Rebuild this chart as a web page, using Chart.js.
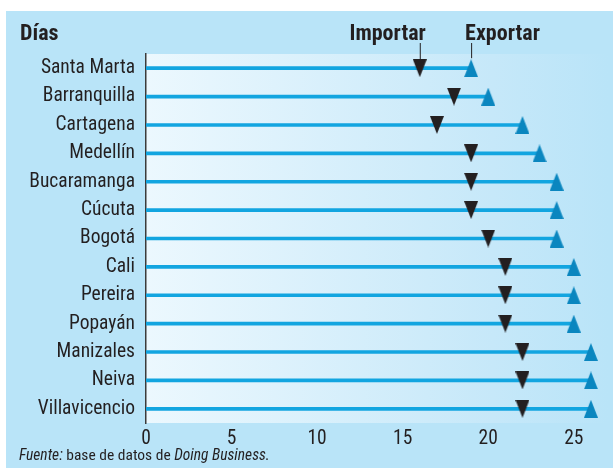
<!DOCTYPE html>
<html>
<head>
<meta charset="utf-8">
<script src="https://cdn.jsdelivr.net/npm/chart.js@4.4.0/dist/chart.umd.min.js"></script>
<style>
  html, body { margin: 0; padding: 0; background: #fff; }
  #wrap { width: 613px; height: 468px; }
</style>
</head>
<body>
<div id="wrap"><canvas id="myChart" width="613" height="468"></canvas></div>
<script>
// Días para importar / exportar por ciudad
var ciudades = ['Santa Marta', 'Barranquilla', 'Cartagena', 'Medellín', 'Bucaramanga', 'Cúcuta',
  'Bogotá', 'Cali', 'Pereira', 'Popayán', 'Manizales', 'Neiva', 'Villavicencio'];
var importar = [16, 18, 17, 19, 19, 19, 20, 21, 21, 21, 22, 22, 22];
var exportar = [19, 20, 22, 23, 24, 24, 24, 25, 25, 25, 26, 26, 26];
var xTicks = [0, 5, 10, 15, 20, 25];

var FONT = '"Liberation Sans Narrow", "Roboto Condensed", "DejaVu Sans Condensed", "Open Sans", sans-serif';
var INK = '#231f20';
var PANEL = '#b9e4f8';

function triangle(color, down) {
  var c = document.createElement('canvas');
  c.width = 14; c.height = 18;
  var g = c.getContext('2d');
  g.fillStyle = color;
  g.beginPath();
  if (down) { g.moveTo(0, 0); g.lineTo(14, 0); g.lineTo(7, 18); }
  else { g.moveTo(7, 0); g.lineTo(14, 18); g.lineTo(0, 18); }
  g.closePath();
  g.fill();
  return c;
}

var decor = {
  id: 'decor',
  beforeDraw: function (chart) {
    var c = chart.ctx, a = chart.chartArea;
    c.save();
    c.fillStyle = PANEL;
    c.fillRect(6, 11, chart.width - 6, chart.height - 11);
    var grad = c.createLinearGradient(a.left, 0, a.right, 0);
    grad.addColorStop(0, '#ecf8fe');
    grad.addColorStop(0.75, '#c6e8f9');
    grad.addColorStop(1, PANEL);
    c.fillStyle = grad;
    c.fillRect(a.left, a.top, a.right - a.left, a.bottom - a.top);
    c.restore();
  },
  afterDraw: function (chart) {
    var c = chart.ctx;
    var x = chart.scales.x, y = chart.scales.y;
    c.save();
    c.fillStyle = INK;
    c.font = 'bold 22px ' + FONT;
    c.textBaseline = 'alphabetic';
    c.textAlign = 'left';
    c.fillText('Días', 20, 40);

    var xi = x.getPixelForValue(importar[0]);
    var xe = x.getPixelForValue(exportar[0]);
    var y0 = y.getPixelForValue(0);
    c.textAlign = 'right';
    c.fillText('Importar', xi + 6, 40);
    c.textAlign = 'left';
    c.fillText('Exportar', xe - 6, 40);

    c.strokeStyle = INK;
    c.lineWidth = 1;
    c.beginPath();
    c.moveTo(xi + 0.5, 43); c.lineTo(xi + 0.5, y0 - 9);
    c.moveTo(xe + 0.5, 43); c.lineTo(xe + 0.5, y0 - 10);
    c.stroke();

    // fuente
    c.fillStyle = INK;
    var px = 19, py = 460;
    var parts = [['Fuente:', true], [' base de datos de ', false], ['Doing Business.', true]];
    parts.forEach(function (p) {
      c.font = (p[1] ? 'italic ' : '') + '15.5px ' + FONT;
      c.fillText(p[0], px, py);
      px += c.measureText(p[0]).width;
    });
    c.restore();
  }
};

var ctx = document.getElementById('myChart').getContext('2d');
var chart = new Chart(ctx, {
  type: 'bar',
  data: {
    labels: ciudades,
    datasets: [{
      label: 'Exportar (línea)',
      data: exportar,
      backgroundColor: '#12a5e0',
      barThickness: 3,
      order: 3
    }, {
      type: 'line',
      label: 'Importar',
      data: importar,
      showLine: false,
      pointStyle: triangle(INK, true),
      order: 1
    }, {
      type: 'line',
      label: 'Exportar',
      data: exportar,
      showLine: false,
      pointStyle: triangle('#0a86bf', false),
      order: 2
    }]
  },
  options: {
    indexAxis: 'y',
    responsive: false,
    animation: false,
    events: [],
    layout: { padding: { left: 0, top: 54, right: 4, bottom: 0 } },
    plugins: { legend: { display: false }, tooltip: { enabled: false } },
    scales: {
      x: {
        type: 'linear',
        min: 0,
        max: 27,
        afterBuildTicks: function (s) {
          s.ticks = xTicks.map(function (v) { return { value: v }; });
        },
        afterFit: function (s) { s.height = 45; },
        grid: { display: false, drawTicks: false },
        border: { display: false },
        ticks: { color: INK, font: { family: FONT, size: 19.5 }, padding: 4, maxRotation: 0 }
      },
      y: {
        afterFit: function (s) { s.width = 146; },
        grid: { display: false, drawTicks: false },
        border: { display: true, color: '#3b3b3b', width: 1.5 },
        ticks: { color: INK, font: { family: FONT, size: 19.5 }, padding: 11 }
      }
    }
  },
  plugins: [decor]
});
</script>
</body>
</html>
